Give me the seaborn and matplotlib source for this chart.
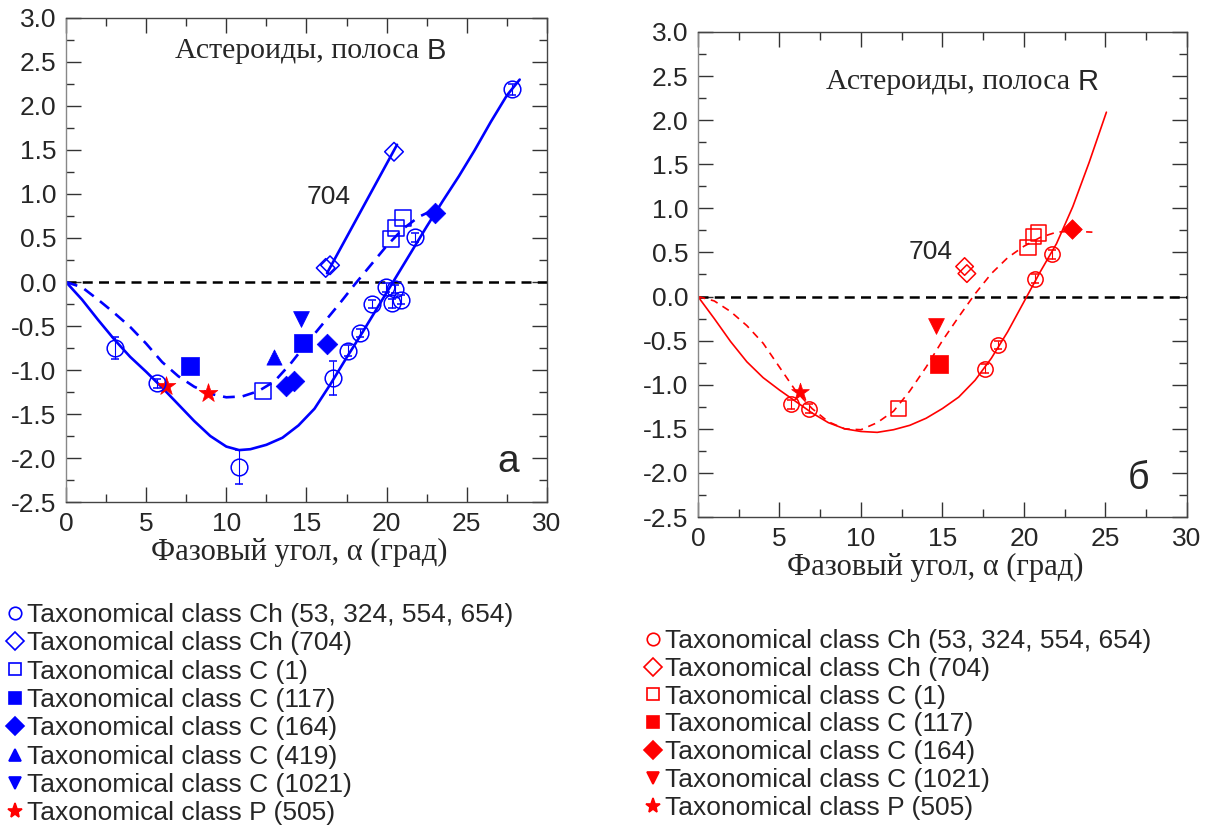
import numpy as np
import pandas as pd
import matplotlib
matplotlib.use('Agg')
import matplotlib.pyplot as plt
from matplotlib.lines import Line2D
from matplotlib.ticker import MultipleLocator, FormatStrFormatter
import seaborn as sns

# ---- Band B (left panel) ----
b_ch_x = [3.06, 5.68, 10.8, 16.66, 17.59, 18.34, 19.09, 19.96, 20.52, 20.34, 20.9, 21.77, 27.82]
b_ch_y = [-0.75, -1.15, -2.10, -1.09, -0.78, -0.58, -0.25, -0.06, -0.08, -0.24, -0.20, 0.51, 2.19]
b_ch_err = [0.13, 0.05, 0.19, 0.19, 0.06, 0.05, 0.04, 0.05, 0.05, 0.05, 0.05, 0.05, 0.06]
b_704_x = [16.2, 16.47, 20.46]
b_704_y = [0.16, 0.19, 1.48]
b_c1_x = [12.29, 20.27, 20.6, 21.0]
b_c1_y = [-1.24, 0.49, 0.61, 0.73]
b_c117_x = [7.74, 14.8]
b_c117_y = [-0.95, -0.69]
b_c164_x = [13.7, 14.2, 16.27, 23.0]
b_c164_y = [-1.18, -1.13, -0.70, 0.78]
b_c419_x = [12.98]
b_c419_y = [-0.85]
b_c1021_x = [14.65]
b_c1021_y = [-0.42]
b_p505_x = [6.24, 8.84]
b_p505_y = [-1.18, -1.26]

# curves
b_fit_ch_x = [0, 1, 2, 3, 4, 5, 6, 7, 8, 9, 10, 10.8, 11.5, 12.5, 13.5, 14.5, 15.5, 16.5, 17.5,
              18.5, 19.5, 20.4, 21.5, 22.5, 23.5, 24.5, 25.5, 26.5, 27.5, 28.3]
b_fit_ch_y = [0, -0.20, -0.43, -0.65, -0.85, -1.02, -1.20, -1.39, -1.58, -1.75, -1.87, -1.91, -1.90,
              -1.85, -1.77, -1.63, -1.44, -1.16, -0.86, -0.57, -0.27, 0.0, 0.33, 0.63, 0.92, 1.20,
              1.50, 1.82, 2.12, 2.30]
b_fit_c_x = [0, 1, 2, 3, 4, 5, 6, 7, 8, 9, 10, 11, 12, 13, 14, 15, 16, 17, 18, 19, 20, 21, 22, 22.7]
b_fit_c_y = [0, -0.06, -0.20, -0.35, -0.51, -0.70, -0.91, -1.07, -1.19, -1.27, -1.31, -1.30, -1.24,
             -1.13, -0.93, -0.70, -0.48, -0.26, -0.03, 0.19, 0.41, 0.60, 0.74, 0.80]
b_line704_x = [16.28, 20.65]
b_line704_y = [0.10, 1.56]

# ---- Band R (right panel) ----
r_ch_x = [5.68, 6.79, 17.6, 18.4, 20.7, 21.7]
r_ch_y = [-1.22, -1.27, -0.82, -0.55, 0.20, 0.48]
r_ch_err = [0.05, 0.05, 0.05, 0.05, 0.05, 0.05]
r_704_x = [16.36, 16.5]
r_704_y = [0.34, 0.26]
r_c1_x = [12.28, 20.25, 20.6, 20.9]
r_c1_y = [-1.27, 0.56, 0.68, 0.72]
r_c117_x = [14.8]
r_c117_y = [-0.76]
r_c164_x = [22.96]
r_c164_y = [0.77]
r_c1021_x = [14.6]
r_c1021_y = [-0.33]
r_p505_x = [6.23]
r_p505_y = [-1.08]

r_fit_ch_x = [0, 1, 2, 3, 4, 5, 6, 7, 8, 9, 10, 11, 12, 13, 14, 15, 16, 17, 18, 19, 20, 21, 22,
              23, 24, 25.06]
r_fit_ch_y = [0, -0.25, -0.51, -0.74, -0.92, -1.06, -1.19, -1.32, -1.43, -1.50, -1.53, -1.54,
              -1.51, -1.46, -1.38, -1.27, -1.14, -0.95, -0.70, -0.40, -0.06, 0.28, 0.60, 1.02,
              1.52, 2.09]
r_fit_c_x = [0, 1, 2, 3, 4, 5, 6, 7, 8, 9, 10, 11, 12, 13, 14, 15, 16, 17, 18, 19, 20, 21, 22,
             23, 24.2]
r_fit_c_y = [0, -0.05, -0.17, -0.33, -0.53, -0.80, -1.07, -1.27, -1.42, -1.50, -1.51, -1.43,
             -1.30, -1.07, -0.80, -0.50, -0.23, 0.03, 0.26, 0.44, 0.57, 0.67, 0.73, 0.74, 0.73]

legend_b = ["Taxonomical class Ch (53, 324, 554, 654)", "Taxonomical class Ch (704)",
            "Taxonomical class C (1)", "Taxonomical class C (117)", "Taxonomical class C (164)",
            "Taxonomical class C (419)", "Taxonomical class C (1021)", "Taxonomical class P (505)"]
legend_r = ["Taxonomical class Ch (53, 324, 554, 654)", "Taxonomical class Ch (704)",
            "Taxonomical class C (1)", "Taxonomical class C (117)", "Taxonomical class C (164)",
            "Taxonomical class C (1021)", "Taxonomical class P (505)"]

BLUE = '#0000ff'
RED = '#ff0000'
SANS = ['Liberation Sans', 'DejaVu Sans']
SERIF = ['Liberation Serif', 'DejaVu Serif']

sns.set_theme(style="ticks")
plt.rcParams['font.family'] = SANS


def style_axes(ax):
    ax.set_xlim(0, 30)
    ax.set_ylim(-2.5, 3.0)
    ax.xaxis.set_major_locator(MultipleLocator(5))
    ax.xaxis.set_minor_locator(MultipleLocator(2.5))
    ax.yaxis.set_major_locator(MultipleLocator(0.5))
    ax.yaxis.set_minor_locator(MultipleLocator(0.25))
    ax.yaxis.set_major_formatter(FormatStrFormatter('%.1f'))
    ax.tick_params(which='both', direction='in', top=True, right=True, width=1, color='#333333',
                   labelsize=19, pad=7)
    ax.tick_params(which='major', length=11)
    ax.tick_params(which='minor', length=6)
    for s in ax.spines.values():
        s.set_color('#444444')
        s.set_linewidth(1)
    ax.spines['left'].set_color('#888888')
    ax.set_xlabel('Фазовый угол, α (град)', fontsize=22, family=SERIF, labelpad=5)
    ax.xaxis.set_label_coords(0.485, -0.075)
    ax.set_ylabel('')
    ax.axhline(0, color='black', lw=1.8, ls=(0, (4, 2.5)), zorder=1)


def scatter(ax, x, y, marker, color, size, open_=False, zorder=5):
    if open_:
        sns.scatterplot(x=x, y=y, ax=ax, marker=marker, s=size, facecolors='none',
                        edgecolor=color, linewidth=1.1, zorder=zorder, legend=False)
    else:
        sns.scatterplot(x=x, y=y, ax=ax, marker=marker, s=size, color=color,
                        edgecolor=color, linewidth=0.5, zorder=zorder, legend=False)


def title(ax, x, y, band):
    fig = ax.figure
    t = ax.text(x, y, 'Астероиды, полоса ', transform=ax.transAxes, fontsize=21.5,
                family=SERIF, ha='left', va='center')
    fig.canvas.draw()
    bb = t.get_window_extent()
    x2 = ax.transAxes.inverted().transform((bb.x1, 0))[0]
    ax.text(x2, y, band, transform=ax.transAxes, fontsize=21, family=SANS, ha='left', va='center')


fig = plt.figure(figsize=(12.13, 8.25), dpi=100)
ax1 = fig.add_axes([0.0544, 0.3915, 0.3965, 0.5867])
ax2 = fig.add_axes([0.5754, 0.3733, 0.4031, 0.588])

# ---- left panel ----
style_axes(ax1)
sns.lineplot(x=b_fit_ch_x, y=b_fit_ch_y, ax=ax1, color=BLUE, lw=1.9, sort=False, estimator=None)
sns.lineplot(x=b_fit_c_x, y=b_fit_c_y, ax=ax1, color=BLUE, lw=1.9, sort=False, estimator=None,
             linestyle=(0, (4.5, 3)))
sns.lineplot(x=b_line704_x, y=b_line704_y, ax=ax1, color=BLUE, lw=1.9, sort=False, estimator=None)
ax1.errorbar(b_ch_x, b_ch_y, yerr=b_ch_err, fmt='o', ms=12, mfc='none', mec=BLUE, mew=1.1,
             ecolor=BLUE, elinewidth=0.8, capsize=3, zorder=6)
scatter(ax1, b_704_x, b_704_y, 'D', BLUE, 90, open_=True)
scatter(ax1, b_c1_x, b_c1_y, 's', BLUE, 130, open_=True)
scatter(ax1, b_c117_x, b_c117_y, 's', BLUE, 170)
scatter(ax1, b_c164_x, b_c164_y, 'D', BLUE, 110)
scatter(ax1, b_c419_x, b_c419_y, '^', BLUE, 120)
scatter(ax1, b_c1021_x, b_c1021_y, 'v', BLUE, 130)
scatter(ax1, b_p505_x, b_p505_y, '*', RED, 200)
title(ax1, 0.227, 0.932, 'B')
ax1.text(16.4, 0.97, '704', fontsize=19, ha='center', va='center')
ax1.text(27.6, -2.05, 'а', fontsize=28, ha='center', va='center')

# ---- right panel ----
style_axes(ax2)
sns.lineplot(x=r_fit_ch_x, y=r_fit_ch_y, ax=ax2, color=RED, lw=1.2, sort=False, estimator=None)
sns.lineplot(x=r_fit_c_x, y=r_fit_c_y, ax=ax2, color=RED, lw=1.2, sort=False, estimator=None,
             linestyle=(0, (4.5, 3.5)))
ax2.errorbar(r_ch_x, r_ch_y, yerr=r_ch_err, fmt='o', ms=11, mfc='none', mec=RED, mew=1.1,
             ecolor=RED, elinewidth=0.8, capsize=3, zorder=6)
scatter(ax2, r_704_x, r_704_y, 'D', RED, 80, open_=True)
scatter(ax2, r_c1_x, r_c1_y, 's', RED, 120, open_=True)
scatter(ax2, r_c117_x, r_c117_y, 's', RED, 160)
scatter(ax2, r_c164_x, r_c164_y, 'D', RED, 100)
scatter(ax2, r_c1021_x, r_c1021_y, 'v', RED, 130)
scatter(ax2, r_p505_x, r_p505_y, '*', RED, 180)
title(ax2, 0.262, 0.897, 'R')
ax2.text(14.3, 0.5, '704', fontsize=19, ha='center', va='center')
ax2.text(27.0, -2.07, 'б', fontsize=27, ha='center', va='center')


# ---- legends ----
def handles(color, markers):
    out = []
    for m, filled in markers:
        out.append(Line2D([], [], ls='', marker=m, ms=9 if m != '*' else 11, mec=color,
                          mfc=color if filled else 'none', mew=1.2))
    return out


mk_b = [('o', False), ('D', False), ('s', False), ('s', True), ('D', True), ('^', True), ('v', True), ('*', True)]
hb = handles(BLUE, mk_b)
hb[-1].set_markeredgecolor(RED)
hb[-1].set_markerfacecolor(RED)
fig.legend(hb, legend_b, loc='upper left', bbox_to_anchor=(0.006, 1 - 603 / 825), frameon=False,
           fontsize=19, handlelength=0.6, handletextpad=0.15, labelspacing=0.165, borderpad=0,
           borderaxespad=0)
mk_r = [('o', False), ('D', False), ('s', False), ('s', True), ('D', True), ('v', True), ('*', True)]
hr = handles(RED, mk_r)
fig.legend(hr, legend_r, loc='upper left', bbox_to_anchor=(0.532, 1 - 629 / 825), frameon=False,
           fontsize=19, handlelength=0.6, handletextpad=0.15, labelspacing=0.145, borderpad=0,
           borderaxespad=0)

fig.savefig('out.png', dpi=100)
